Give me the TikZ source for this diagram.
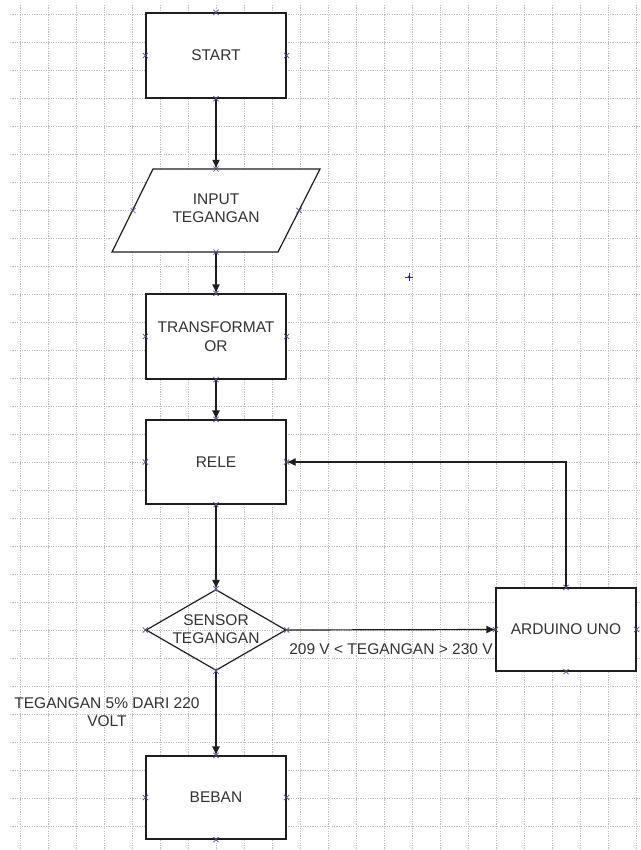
\documentclass[tikz,border=0pt]{standalone}
\usepackage{fontspec}
\setmainfont{Liberation Sans}
\usetikzlibrary{arrows.meta,shapes.geometric}
\definecolor{lnc}{HTML}{1E1E1E}
\definecolor{txc}{HTML}{333333}
\definecolor{grc}{HTML}{BDBDBD}
\definecolor{mkc}{HTML}{50508A}
\definecolor{plc}{HTML}{2A2A9A}
\tikzset{
  box/.style={draw=lnc, line width=1.2pt, fill=white, minimum width=140pt, inner sep=0pt, text=txc, align=center, font=\fontsize{15.5}{18.5}\selectfont},
  lbl/.style={text=txc, align=center, font=\fontsize{15.5}{18.5}\selectfont, inner sep=0pt},
  conn/.style={draw=lnc, line width=1.2pt, -{Latex[length=9pt,width=8pt]}},
  gridln/.style={draw=grc, line width=0.8pt, dash pattern=on 1.2pt off 1.2pt},
  xmk/.pic={\draw[mkc, line width=0.7pt] (-2.6,-2.6)--(2.6,2.6) (-2.6,2.6)--(2.6,-2.6);}
}
\begin{document}
\begin{tikzpicture}[x=1pt,y=-1pt]
\useasboundingbox (0,0) rectangle (640,850);
\fill[white] (0,0) rectangle (640,850);
% grid
\foreach \gx in {20,48,...,636} \draw[gridln] (\gx,5) -- (\gx,850);
\foreach \gy in {14,42,...,850} \draw[gridln] (10,\gy) -- (640,\gy);

% nodes
\node[box, minimum height=85pt] (start) at (216,55.5) {START};

\draw[lnc, line width=1.2pt, fill=white] (153,169) -- (320,169) -- (278,252) -- (112,252) -- cycle;
\node[minimum width=166pt, minimum height=83pt, inner sep=0pt] (inp) at (216,210.5) {};
\node[lbl] (inptxt) at (216,208) {INPUT\\TEGANGAN};

\node[box, minimum height=85pt] (trans) at (216,336.5) {TRANSFORMAT\\OR};
\node[box, minimum height=84pt] (rele) at (216,462) {RELE};
\node[draw=lnc, line width=1.2pt, shape=diamond, minimum width=140pt, minimum height=81pt, inner sep=0pt] (sens) at (216,630) {};
\node[lbl] (senstxt) at (216,629) {SENSOR\\TEGANGAN};
\node[box, minimum height=83pt] (ard) at (566,629.5) {ARDUINO UNO};
\node[box, minimum height=83pt] (beban) at (216,797.5) {BEBAN};

% connectors
\draw[conn] (start.south) -- (inp.north);
\draw[conn] (inp.south) -- (trans.north);
\draw[conn] (trans.south) -- (rele.north);
\draw[conn] (rele.south) -- (sens.north);
\draw[conn] (sens.east) -- node[lbl, below=13pt] (lblcond) {209 V < TEGANGAN > 230 V} (ard.west);
\draw[conn] (ard.north) |- (rele.east);
\draw[conn] (sens.south) -- (beban.north);

\node[lbl] (lblvolt) at (107,712) {TEGANGAN 5\% DARI 220\\VOLT};

% markers
\foreach \n in {start,trans,rele,ard,beban,sens}
  \foreach \a in {north,south,east,west}
    \pic at (\n.\a) {xmk};
\pic at (216,169) {xmk};
\pic at (216,252) {xmk};
\pic at (133,210.5) {xmk};
\pic at (299,210.5) {xmk};

% crosshair
\draw[plc, line width=1pt] (405,277) -- (413,277) (409,273) -- (409,281);
\fill[plc] (409,277) circle (1.5pt);
\end{tikzpicture}
\end{document}
